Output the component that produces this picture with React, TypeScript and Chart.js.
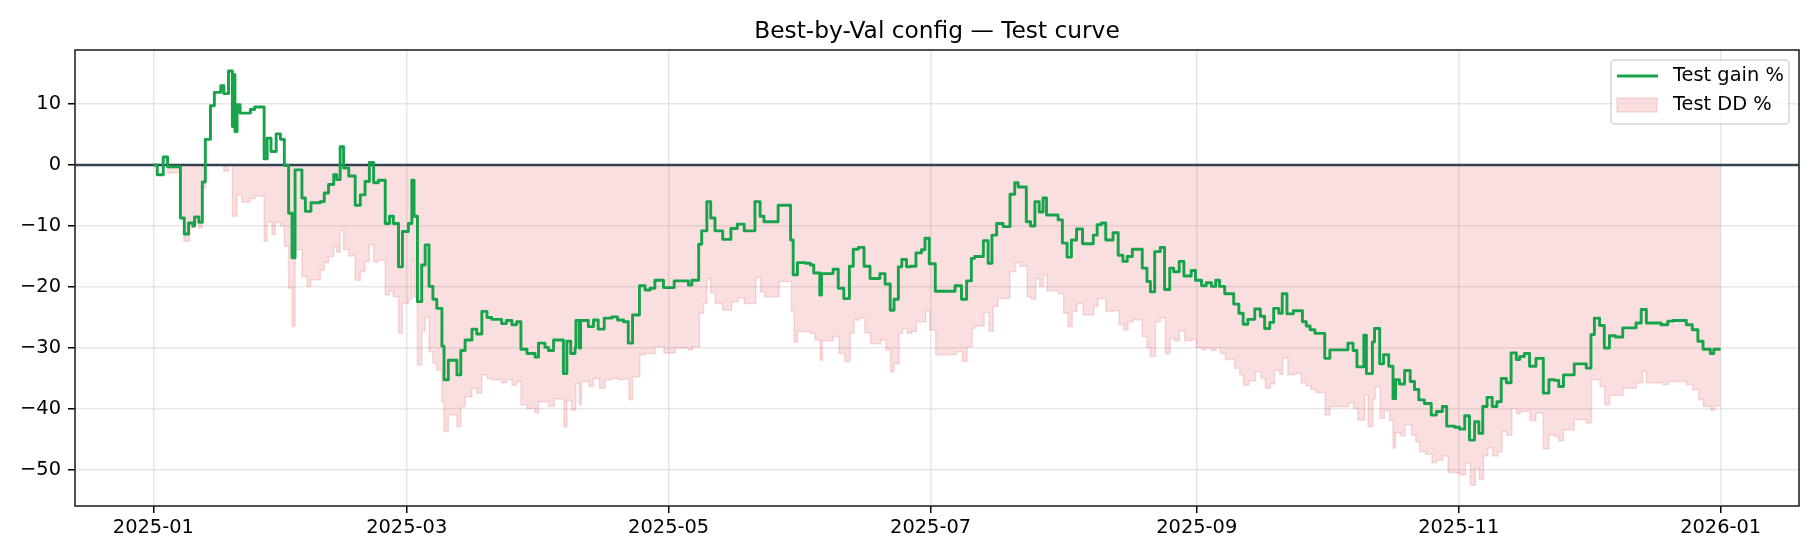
import React, { useEffect, useRef } from 'react';
import { Chart, registerables } from 'chart.js';
Chart.register(...registerables);

const TITLE = 'Best-by-Val config — Test curve';
const GAIN_LABEL = 'Test gain %';
const DD_LABEL = 'Test DD %';

// x values are days since 2025-01-01
const xTickDays = [0, 59, 120, 181, 243, 304, 365];
const xTickLabels = ['2025-01', '2025-03', '2025-05', '2025-07', '2025-09', '2025-11', '2026-01'];
const yTicks = [-50, -40, -30, -20, -10, 0, 10];

// [day, value] – each value holds until the next day listed
const gainSteps: [number, number][] = [
  [0, 0], [0.9, -1.6], [2.3, 1.3], [3.3, -0.3], [6.3, -8.7], [7.2, -11.3], [8.2, -9.5], [9.2, -10.0],
  [9.6, -8.5], [10.6, -9.4], [11.4, -2.8], [12.1, 4.2], [13.3, 9.7], [14.2, 11.9], [15.7, 13.0], [16.4, 11.7],
  [17.5, 15.4], [18.4, 6.3], [18.7, 14.8], [19.0, 5.5], [19.5, 9.9], [20.2, 8.5], [22.6, 9.1], [23.6, 9.5],
  [25.8, 1.0], [26.5, 4.4], [27.4, 2.2], [28.6, 5.1], [29.6, 4.2], [30.5, -0.1], [31.5, -7.9], [32.3, -15.2],
  [33.0, -0.8], [34.6, -5.4], [35.4, -7.6], [36.7, -6.2], [38.9, -6.0], [39.8, -4.6], [40.8, -3.2], [42.0, -1.6],
  [42.7, -2.4], [43.5, 3.0], [44.3, -0.5], [45.5, -1.8], [47.0, -6.6], [48.2, -4.9], [49.3, -2.7], [50.3, 0.4],
  [51.3, -2.9], [52.4, -2.5], [54.0, -9.6], [55.0, -8.4], [55.9, -9.6], [57.1, -16.7], [58.0, -10.9], [59.4, -9.6],
  [60.2, -2.5], [60.7, -8.4], [61.5, -22.4], [62.5, -16.4], [63.3, -13.1], [64.2, -19.9], [65.1, -22.0], [66.0, -23.5],
  [67.2, -29.7], [67.7, -35.2], [68.7, -32.0], [70.7, -34.4], [71.6, -30.4], [72.6, -28.7], [74.2, -26.9], [75.3, -27.7],
  [76.5, -24.0], [77.7, -25.0], [78.8, -25.3], [81.1, -26.0], [82.2, -25.5], [83.5, -26.2], [84.6, -25.7], [85.6, -30.2],
  [87.0, -30.9], [88.9, -31.5], [89.7, -29.2], [91.2, -29.9], [92.0, -30.4], [93.2, -28.7], [95.5, -34.2], [96.3, -28.9],
  [97.2, -30.9], [98.2, -30.0], [98.4, -25.5], [99.2, -30.0], [99.5, -25.5], [101.3, -26.5], [102.5, -25.4], [103.6, -26.9],
  [105.0, -25.1], [106.8, -24.9], [108.1, -25.4], [109.5, -25.7], [110.6, -29.2], [111.6, -24.6], [113.2, -19.8], [114.5, -20.5],
  [115.7, -20.2], [116.8, -18.9], [118.8, -20.1], [121.3, -19.0], [124.6, -19.7], [125.4, -18.9], [127.0, -13.0], [127.7, -10.8],
  [128.9, -6.0], [129.8, -8.7], [130.8, -10.8], [132.6, -12.2], [134.5, -10.4], [136.0, -9.7], [137.6, -10.8], [140.1, -6.0],
  [141.3, -8.4], [142.2, -9.3], [145.5, -6.6], [148.4, -12.3], [149.0, -18.0], [150.0, -16.0], [151.8, -16.1], [153.0, -16.4],
  [153.8, -17.7], [155.2, -21.3], [155.6, -17.8], [158.3, -17.1], [159.5, -20.2], [160.8, -21.9], [162.1, -16.6], [163.0, -13.8],
  [164.2, -13.5], [165.5, -16.6], [166.9, -18.6], [169.2, -17.8], [170.4, -19.5], [171.6, -23.8], [172.5, -22.0], [173.5, -16.7],
  [174.3, -15.5], [175.4, -16.7], [176.3, -16.6], [177.6, -14.4], [178.9, -13.9], [179.7, -12.0], [180.7, -16.2], [182.1, -20.7],
  [186.7, -19.8], [188.2, -22.0], [189.4, -19.0], [190.5, -15.3], [191.3, -15.0], [193.3, -12.4], [194.4, -16.1], [195.3, -11.5],
  [196.4, -9.6], [197.9, -10.1], [199.5, -4.8], [200.6, -2.9], [201.4, -3.6], [203.3, -9.3], [204.3, -10.0], [205.3, -6.0],
  [206.3, -7.7], [207.2, -5.4], [208.0, -8.2], [210.7, -9.0], [211.7, -12.8], [212.8, -15.1], [213.8, -12.3], [215.0, -10.5],
  [216.4, -12.9], [218.9, -11.5], [219.8, -9.8], [220.8, -9.5], [221.8, -12.3], [223.5, -11.1], [224.7, -14.8], [225.8, -15.8],
  [226.8, -15.0], [228.0, -13.8], [230.3, -16.9], [231.4, -19.1], [232.2, -20.8], [233.2, -14.2], [234.5, -13.5], [235.5, -20.4],
  [236.7, -16.9], [237.6, -17.5], [238.9, -15.8], [240.0, -18.2], [241.7, -17.3], [242.7, -18.9], [244.1, -19.8], [245.2, -19.3],
  [246.4, -19.9], [247.4, -18.9], [248.3, -19.9], [249.5, -21.1], [251.6, -22.8], [252.8, -24.3], [253.8, -26.1], [254.9, -25.3],
  [256.5, -23.6], [257.8, -24.8], [258.8, -26.8], [260.0, -25.8], [260.9, -23.5], [262.1, -24.3], [262.9, -21.1], [264.0, -24.4],
  [265.5, -23.9], [267.6, -25.7], [268.5, -26.4], [269.4, -27.0], [270.5, -27.6], [272.8, -31.7], [274.0, -30.3], [278.2, -29.2],
  [279.4, -30.4], [280.3, -33.1], [281.9, -27.9], [282.5, -34.2], [283.9, -29.0], [284.4, -26.8], [285.6, -32.6], [286.5, -31.1],
  [287.7, -33.0], [288.7, -38.3], [289.3, -35.2], [290.2, -35.9], [291.4, -33.7], [292.7, -35.5], [293.7, -36.8], [294.7, -38.5],
  [296.0, -39.1], [297.6, -41.0], [298.8, -40.4], [300.2, -39.6], [301.2, -42.8], [303.0, -43.0], [304.2, -43.3], [305.4, -41.1],
  [306.5, -45.1], [307.7, -42.1], [308.7, -44.0], [309.6, -39.6], [310.6, -38.1], [311.8, -39.6], [312.9, -38.8], [313.9, -35.0],
  [315.1, -35.7], [316.2, -30.8], [317.4, -31.9], [318.2, -31.4], [319.3, -30.9], [320.5, -33.0], [322.0, -31.7], [323.7, -37.4],
  [325.0, -35.2], [326.3, -35.3], [327.3, -36.3], [328.4, -34.4], [330.9, -32.6], [333.7, -33.3], [334.8, -27.8], [335.6, -25.1],
  [336.8, -26.3], [337.9, -30.0], [339.1, -28.0], [340.5, -28.2], [342.2, -26.7], [345.3, -25.9], [346.5, -23.7], [347.7, -25.9],
  [351.1, -26.2], [352.7, -25.6], [353.9, -25.5], [357.0, -26.2], [358.4, -27.0], [359.7, -28.9], [360.9, -30.2], [362.6, -30.9],
  [363.4, -30.2], [365.0, -30.2],
];

const ddSteps: [number, number][] = [
  [0, 0], [3.3, -1.3], [6.3, -8.7], [7.1, -12.5], [8.5, -10.3], [9.4, -9.5], [10.6, -10.3], [11.4, -3.8],
  [12.1, 0], [16.4, -1.0], [17.5, 0], [18.4, -8.4], [19.5, -4.9], [20.6, -6.1], [22.6, -5.5], [23.7, -5.1],
  [25.8, -12.5], [26.5, -9.4], [27.6, -11.4], [28.4, -9.4], [29.6, -10.0], [30.5, -13.3], [31.5, -20.2], [32.3, -26.4],
  [33.0, -13.9], [34.6, -18.3], [35.8, -19.9], [36.7, -18.8], [38.9, -17.2], [39.8, -16.0], [40.8, -15.0], [42.0, -13.3],
  [42.7, -14.3], [43.5, -10.7], [44.3, -13.9], [45.5, -14.9], [47.0, -18.9], [48.2, -17.5], [49.3, -15.8], [50.3, -13.1],
  [51.3, -15.9], [52.4, -15.6], [54.0, -21.3], [55.0, -20.6], [55.9, -21.6], [57.1, -27.6], [58.0, -22.7], [59.4, -22.0],
  [60.2, -15.6], [60.7, -21.6], [61.5, -32.8], [62.5, -27.3], [63.3, -24.9], [64.2, -30.6], [65.1, -32.5], [66.0, -33.6],
  [67.2, -38.8], [67.7, -43.7], [68.7, -41.0], [70.7, -42.9], [71.6, -39.6], [72.6, -38.0], [74.2, -36.6], [75.3, -37.4],
  [76.5, -34.4], [77.7, -35.0], [78.8, -35.2], [81.1, -35.7], [82.2, -35.2], [83.5, -36.1], [84.6, -35.5], [85.6, -39.3],
  [87.0, -39.9], [88.9, -40.6], [89.7, -38.8], [92.0, -39.6], [93.4, -38.3], [95.6, -42.9], [96.3, -38.6], [97.4, -40.2],
  [98.4, -35.8], [99.2, -39.3], [99.7, -35.5], [101.5, -36.3], [102.5, -35.0], [103.9, -36.6], [105.2, -35.2], [106.8, -35.0],
  [108.3, -35.2], [109.5, -35.1], [110.8, -38.5], [111.6, -34.7], [113.3, -31.1], [114.5, -30.9], [116.8, -29.8], [118.9, -30.8],
  [121.5, -30.0], [124.6, -30.3], [125.6, -29.8], [127.2, -24.3], [128.1, -22.7], [128.9, -18.6], [129.8, -21.0], [130.8, -22.7],
  [132.6, -23.8], [134.7, -22.4], [136.2, -21.8], [137.6, -22.7], [140.3, -18.4], [141.4, -20.8], [142.4, -21.6], [145.7, -19.1],
  [148.6, -24.0], [149.2, -29.0], [150.0, -27.3], [153.0, -27.6], [154.1, -28.7], [155.3, -32.0], [155.8, -28.8], [158.4, -28.1],
  [159.7, -30.9], [161.0, -32.2], [162.3, -27.6], [163.2, -25.4], [164.4, -25.1], [165.7, -27.5], [167.0, -29.3], [169.4, -28.7],
  [170.6, -30.3], [171.7, -33.9], [172.5, -32.6], [173.7, -27.6], [174.5, -26.8], [175.6, -27.6], [176.6, -27.3], [177.7, -25.7],
  [179.9, -23.8], [180.8, -27.1], [182.2, -31.1], [186.9, -30.6], [188.4, -32.2], [189.5, -29.8], [190.7, -26.8], [191.3, -26.4],
  [193.5, -24.2], [194.6, -27.3], [195.6, -23.2], [196.7, -21.9], [199.5, -17.5], [200.8, -16.0], [201.8, -16.6], [203.5, -21.6],
  [204.5, -22.0], [205.5, -18.6], [206.4, -19.9], [207.3, -18.0], [208.1, -20.6], [210.7, -21.1], [212.0, -24.3], [213.0, -26.5],
  [214.0, -24.0], [215.1, -22.7], [216.5, -24.6], [219.0, -23.2], [220.0, -21.9], [221.8, -24.0], [223.5, -23.9], [224.9, -26.2],
  [226.0, -27.0], [227.0, -25.7], [228.2, -25.4], [230.3, -28.1], [231.4, -30.0], [232.2, -31.4], [233.4, -25.7], [234.5, -25.1],
  [235.7, -30.9], [236.8, -28.4], [237.8, -28.8], [238.9, -27.2], [240.2, -28.8], [241.7, -28.6], [242.9, -29.9], [244.3, -30.3],
  [245.2, -30.0], [246.4, -30.4], [247.5, -29.9], [248.5, -30.9], [249.7, -31.9], [251.8, -33.3], [253.0, -34.4], [253.9, -36.1],
  [255.1, -35.4], [256.7, -33.9], [258.0, -35.0], [259.0, -36.6], [260.1, -35.9], [261.1, -33.7], [262.3, -34.3], [263.0, -31.7],
  [264.2, -34.4], [265.7, -34.2], [267.3, -35.7], [268.5, -36.2], [269.6, -36.8], [270.8, -37.3], [272.9, -41.0], [274.0, -39.6],
  [278.4, -39.0], [279.5, -39.9], [280.5, -41.8], [282.1, -37.7], [282.9, -42.9], [284.0, -38.3], [284.6, -36.4], [285.7, -41.5],
  [286.7, -40.3], [287.9, -41.9], [288.7, -46.4], [289.3, -43.9], [290.4, -44.4], [291.5, -42.6], [293.0, -44.3], [294.0, -45.4],
  [294.9, -47.0], [296.3, -47.4], [297.8, -48.8], [298.9, -48.4], [300.3, -47.7], [301.5, -50.4], [303.4, -50.5], [304.3, -50.8],
  [305.6, -48.9], [306.7, -52.5], [307.9, -49.7], [308.8, -51.5], [309.8, -47.7], [310.8, -46.4], [311.9, -47.7], [313.1, -47.0],
  [314.1, -43.7], [315.2, -44.3], [316.4, -39.9], [317.5, -40.8], [318.3, -40.4], [320.6, -41.9], [322.0, -40.7], [323.7, -46.5],
  [325.0, -44.2], [326.3, -44.5], [327.3, -45.2], [328.4, -43.4], [330.9, -41.7], [333.7, -42.3], [334.9, -35.2], [336.9, -36.3],
  [338.0, -39.3], [339.2, -37.8], [342.3, -36.6], [345.4, -35.7], [346.8, -33.8], [347.7, -35.7], [351.4, -36.0], [352.9, -35.5],
  [357.0, -36.0], [358.5, -36.8], [359.9, -38.5], [361.0, -39.6], [362.8, -40.2], [363.6, -39.5], [365.0, -39.5],
];

const GREEN = '#16a34a';
const DD_COLOR = 'rgba(214, 39, 40, 0.15)';
const ZERO_COLOR = '#334155';
const FONT = 'DejaVu Sans';

// zero line, frame, title and legend drawn the matplotlib way
const decor = {
  id: 'decor',
  afterDatasetDraw(chart: any, args: any) {
    if (args.index !== 1) return;
    const { ctx, chartArea: a, scales } = chart;
    const y = Math.round(scales.y.getPixelForValue(0));
    ctx.save();
    ctx.strokeStyle = ZERO_COLOR;
    ctx.lineWidth = 2.6;
    ctx.beginPath();
    ctx.moveTo(a.left, y);
    ctx.lineTo(a.right, y);
    ctx.stroke();
    ctx.restore();
  },
  afterDraw(chart: any) {
    const { ctx, chartArea: a } = chart;
    ctx.save();
    ctx.strokeStyle = '#262626';
    ctx.lineWidth = 1.6;
    ctx.strokeRect(a.left, a.top, a.right - a.left, a.bottom - a.top);

    ctx.fillStyle = '#000';
    ctx.font = `23.3px "${FONT}"`;
    ctx.textAlign = 'center';
    ctx.textBaseline = 'alphabetic';
    ctx.fillText(TITLE, (a.left + a.right) / 2, a.top - 11.7);

    const bx = a.right - 188;
    const by = a.top + 10;
    ctx.beginPath();
    ctx.roundRect(bx, by, 178, 64, 4);
    ctx.fillStyle = 'rgba(255, 255, 255, 0.8)';
    ctx.fill();
    ctx.strokeStyle = 'rgba(204, 204, 204, 0.8)';
    ctx.lineWidth = 1.5;
    ctx.stroke();

    ctx.strokeStyle = GREEN;
    ctx.lineWidth = 2.8;
    ctx.beginPath();
    ctx.moveTo(bx + 6, by + 16);
    ctx.lineTo(bx + 47, by + 16);
    ctx.stroke();

    ctx.fillStyle = DD_COLOR;
    ctx.fillRect(bx + 6, by + 38, 40, 14);
    ctx.strokeStyle = DD_COLOR;
    ctx.lineWidth = 1.5;
    ctx.strokeRect(bx + 6, by + 38, 40, 14);

    ctx.fillStyle = '#000';
    ctx.font = `19.4px "${FONT}"`;
    ctx.textAlign = 'left';
    ctx.textBaseline = 'middle';
    ctx.fillText(GAIN_LABEL, bx + 62, by + 16);
    ctx.fillText(DD_LABEL, bx + 62, by + 45);
    ctx.restore();
  },
};

const minus = (v: number) => (v < 0 ? '\u2212' + Math.abs(v) : String(v));

const App = () => {
  const canvasRef = useRef<HTMLCanvasElement | null>(null);

  useEffect(() => {
    document.body.style.margin = '0';
    if (!canvasRef.current) return;

    const tickFont = { family: FONT, size: 19.4 };
    const grid = {
      color: 'rgba(176, 176, 176, 0.3)',
      lineWidth: 1.5,
      tickLength: 7,
      tickColor: '#000',
      tickWidth: 1.5,
    };

    const chart = new Chart(canvasRef.current, {
      type: 'line',
      data: {
        datasets: [
          {
            label: GAIN_LABEL,
            data: gainSteps.map(([x, y]) => ({ x, y })),
            borderColor: GREEN,
            borderWidth: 2.9,
            borderJoinStyle: 'round',
            stepped: 'before',
            pointRadius: 0,
            fill: false,
            order: 0,
          },
          {
            label: DD_LABEL,
            data: ddSteps.map(([x, y]) => ({ x, y })),
            borderColor: DD_COLOR,
            backgroundColor: DD_COLOR,
            borderWidth: 1.5,
            stepped: 'before',
            pointRadius: 0,
            fill: 'origin',
            order: 1,
          },
        ],
      },
      options: {
        responsive: false,
        animation: false,
        devicePixelRatio: 1,
        events: [],
        layout: { padding: { top: 50, right: 21, left: 0, bottom: 0 } },
        plugins: {
          legend: { display: false },
          title: { display: false },
          tooltip: { enabled: false },
        },
        scales: {
          x: {
            type: 'linear',
            min: -18.25,
            max: 383.25,
            grid,
            border: { display: false },
            ticks: {
              font: tickFont,
              color: '#000',
              padding: 3,
              maxRotation: 0,
              autoSkip: false,
              callback: (_v: any, i: number) => xTickLabels[i],
            },
            afterBuildTicks: (s: any) => {
              s.ticks = xTickDays.map((value) => ({ value }));
            },
            afterFit: (s: any) => {
              s.height = 54;
              s.paddingLeft = 0;
              s.paddingRight = 0;
            },
          },
          y: {
            type: 'linear',
            min: -55.9,
            max: 18.85,
            grid,
            border: { display: false },
            ticks: {
              font: tickFont,
              color: '#000',
              padding: 7,
              autoSkip: false,
              callback: (v: any) => minus(Number(v)),
            },
            afterBuildTicks: (s: any) => {
              s.ticks = yTicks.map((value) => ({ value }));
            },
            afterFit: (s: any) => {
              s.width = 75;
              s.paddingTop = 0;
              s.paddingBottom = 0;
            },
          },
        },
      } as any,
      plugins: [decor],
    });

    return () => chart.destroy();
  }, []);

  return (
    <div style={{ width: '1820px', height: '560px' }}>
      <canvas ref={canvasRef} width={1820} height={560} style={{ display: 'block' }} />
    </div>
  );
};

export default App;
